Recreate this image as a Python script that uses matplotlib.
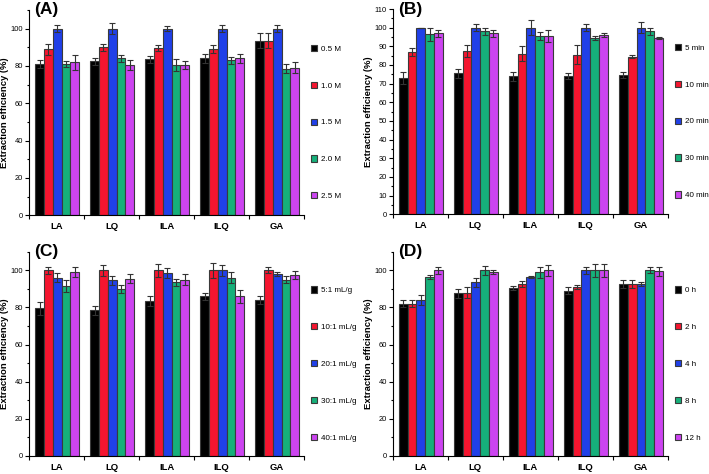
import matplotlib
matplotlib.use("Agg")
import matplotlib.pyplot as plt
import numpy as np
from matplotlib.ticker import MultipleLocator, FixedLocator

plt.rcParams['font.family'] = ['Liberation Sans', 'DejaVu Sans']

categories = ["LA", "LQ", "ILA", "ILQ", "GA"]
colors = ["#000000", "#f5152f", "#2040e8", "#16b07a", "#cc44f0"]

# panel A: concentration
labels_a = ["0.5 M", "1.0 M", "1.5 M", "2.0 M", "2.5 M"]
vals_a = [[81, 82.5, 83.5, 84, 93.5],
          [89, 90, 89.5, 89, 93.5],
          [100, 100, 100, 100, 100],
          [81, 84, 80.5, 83, 78.5],
          [82, 80.5, 80.5, 84, 79]]
errs_a = [[2, 2, 2, 2.5, 4],
          [3, 2, 1.5, 2, 4],
          [2, 3, 1.5, 2, 2],
          [1.5, 2, 3, 2, 2.5],
          [4, 2.5, 2, 2.5, 3]]

# panel B: time
labels_b = ["5 min", "10 min", "20 min", "30 min", "40 min"]
vals_b = [[73, 75.5, 74, 74, 74.5],
          [87, 87.5, 86, 85.5, 84.5],
          [100, 100, 100, 100, 100],
          [96.5, 98, 95.5, 94.5, 98],
          [97, 97, 95.5, 96, 94.5]]
errs_b = [[3, 2.5, 2.5, 1.5, 1.5],
          [2, 3, 4, 5, 1],
          [0, 2, 4, 2, 3],
          [3.5, 2, 2, 1, 2],
          [2, 2, 3, 1, 0.7]]

# panel C: liquid/solid ratio
labels_c = ["5:1 mL/g", "10:1 mL/g", "20:1 mL/g", "30:1 mL/g", "40:1 mL/g"]
vals_c = [[79.5, 78.5, 83.5, 86, 84],
          [100, 100, 100, 100, 100],
          [96, 94.5, 98.5, 100, 98],
          [91.5, 90, 93.5, 96, 95],
          [99, 95.5, 95, 86, 97.5]]
errs_c = [[3.5, 2.5, 2.5, 2, 2],
          [2, 3, 3.5, 4, 1.5],
          [2.5, 2.5, 2.5, 3, 1],
          [3, 2, 2, 3, 2],
          [2.5, 2.5, 3, 3.5, 2]]

# panel D: soaking time
labels_d = ["0 h", "2 h", "4 h", "8 h", "12 h"]
vals_d = [[82, 87.5, 90.5, 89, 92.5],
          [82, 88, 92.5, 91, 92.5],
          [84, 93.5, 96.5, 100, 92.5],
          [96.5, 100, 99, 100, 100],
          [100, 99, 100, 100, 99.5]]
errs_d = [[2, 2.5, 1, 2, 2],
          [2, 3, 1.5, 1, 2],
          [2.5, 2.5, 0.5, 2, 1],
          [1, 2.5, 3, 3.5, 1.5],
          [2, 1, 3, 3.5, 2.5]]


def draw_panel(ax, tag, vals, errs, labels, major, minor):
    x = np.arange(1, len(categories) + 1)
    width = 0.16
    for i, (v, e) in enumerate(zip(vals, errs)):
        pos = x + (i - 2) * width + 0.01
        ax.bar(pos, v, width, color=colors[i], edgecolor="#3a3a3a",
               linewidth=0.8, label=labels[i],
               yerr=e, capsize=2.2,
               error_kw=dict(ecolor="#333333", elinewidth=0.8, capthick=0.8))
    ax.set_xlim(0.5, 5.5)
    ax.set_ylim(0, 110)
    ax.yaxis.set_major_locator(MultipleLocator(major))
    ax.yaxis.set_minor_locator(MultipleLocator(minor))
    ax.xaxis.set_major_locator(FixedLocator(np.arange(0.5, 6, 1)))
    ax.set_xticks(x, categories, minor=True)
    ax.set_xticklabels([], minor=False)
    ax.tick_params(axis="x", which="minor", length=0, pad=5,
                   labelsize=6.8)
    ax.tick_params(axis="x", which="major", length=3, width=0.8)
    ax.tick_params(axis="y", which="major", length=3, width=0.8,
                   labelsize=5.4, pad=1.2)
    ax.tick_params(axis="y", which="minor", length=1.8, width=0.8)
    for lbl in ax.get_xticklabels(minor=True):
        lbl.set_fontweight("bold")
    ax.spines["top"].set_visible(False)
    ax.spines["right"].set_visible(False)
    ax.set_ylabel("Extraction efficiency (%)", fontsize=6.8, fontweight="bold",
                  labelpad=1.2)
    ax.text(0.02, 1.0, tag, transform=ax.transAxes, fontsize=12.5,
            fontweight="bold", va="center", ha="left")
    ax.legend(loc="upper left", bbox_to_anchor=(1.01, 0.85), frameon=False,
              fontsize=5.8, labelspacing=3.6, handlelength=0.8,
              handleheight=0.8, handletextpad=0.5, borderpad=0)


fig = plt.figure(figsize=(7.09, 4.74), dpi=100)
ax_a = fig.add_axes([0.041, 0.546, 0.388, 0.433])
ax_b = fig.add_axes([0.554, 0.548, 0.388, 0.433])
ax_c = fig.add_axes([0.041, 0.038, 0.388, 0.431])
ax_d = fig.add_axes([0.554, 0.038, 0.388, 0.431])

draw_panel(ax_a, "(A)", vals_a, errs_a, labels_a, 20, 10)
draw_panel(ax_b, "(B)", vals_b, errs_b, labels_b, 10, 5)
draw_panel(ax_c, "(C)", vals_c, errs_c, labels_c, 20, 10)
draw_panel(ax_d, "(D)", vals_d, errs_d, labels_d, 20, 10)

fig.savefig("out.png", dpi=100)
